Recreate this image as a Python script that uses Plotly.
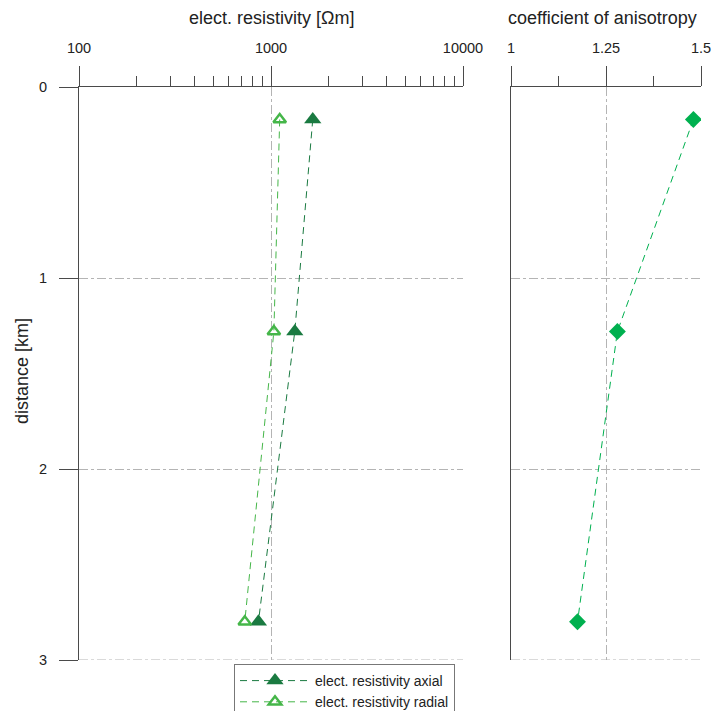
import plotly.graph_objects as go

# data
depth_km = [0.17, 1.28, 2.80]
rho_axial = [1650, 1330, 860]
rho_radial = [1110, 1035, 730]
anisotropy = [1.48, 1.28, 1.175]

res_ticks = [100, 1000, 10000]
res_ticklabels = ["100", "1000", "10000"]
aniso_ticks = [1, 1.25, 1.5]
aniso_ticklabels = ["1", "1.25", "1.5"]
depth_ticks = [0, 1, 2, 3]
depth_ticklabels = ["0", "1", "2", "3"]

c_axial = "#1a7a41"
c_radial = "#45b649"
c_aniso = "#00b04f"
grid_c = "#b4b4b4"
axis_c = "#4a4a4a"
font_c = "#222222"

fig = go.Figure()
fig.add_trace(go.Scatter(
    x=rho_axial, y=depth_km, mode="lines+markers",
    name="elect. resistivity axial",
    line=dict(color=c_axial, width=1, dash="7px,5px"),
    marker=dict(symbol="triangle-up", size=15, color=c_axial),
    xaxis="x", yaxis="y"))
fig.add_trace(go.Scatter(
    x=rho_radial, y=depth_km, mode="lines+markers",
    name="elect. resistivity radial",
    line=dict(color=c_radial, width=1, dash="7px,5px"),
    marker=dict(symbol="triangle-up-open", size=11, color=c_radial,
                line=dict(width=2.5, color=c_radial)),
    xaxis="x", yaxis="y"))
fig.add_trace(go.Scatter(
    x=anisotropy, y=depth_km, mode="lines+markers",
    name="coefficient of anisotropy", showlegend=False,
    line=dict(color=c_aniso, width=1, dash="7px,5px"),
    marker=dict(symbol="diamond", size=13, color=c_aniso),
    xaxis="x2", yaxis="y2"))

W, H = 713, 711
ml, mr, mt, mb = 79, 12, 87, 51
pw = W - ml - mr
ph = H - mt - mb

xcommon = dict(side="top", showline=True, linecolor=axis_c, linewidth=1,
               ticks="outside", ticklen=20, tickcolor=axis_c, tickwidth=1,
               showgrid=True, gridcolor=grid_c, griddash="dashdot", gridwidth=1,
               zeroline=False, tickfont=dict(size=14.5, color=font_c),
               ticklabelstandoff=7, automargin=False)

fig.update_layout(
    width=W, height=H,
    margin=dict(l=ml, r=mr, t=mt, b=mb),
    paper_bgcolor="white", plot_bgcolor="white",
    font=dict(family="Liberation Sans, Arial, sans-serif", size=14, color=font_c),
    xaxis=dict(type="log", range=[2, 4], domain=[0, (463 - ml) / pw],
               tickvals=res_ticks, ticktext=res_ticklabels, anchor="y",
               minor=dict(ticks="outside", ticklen=10, tickcolor=axis_c,
                          dtick="D1", showgrid=False),
               **xcommon),
    xaxis2=dict(range=[1, 1.5], domain=[(511 - ml) / pw, 1],
                tickvals=aniso_ticks, ticktext=aniso_ticklabels, anchor="y2",
                minor=dict(ticks="outside", ticklen=10, tickcolor=axis_c,
                           dtick=0.125, showgrid=False),
                **xcommon),
    yaxis=dict(range=[3, 0], tickvals=depth_ticks, ticktext=depth_ticklabels,
               showline=True, linecolor=axis_c, linewidth=1,
               ticks="outside", ticklen=19, tickcolor=axis_c,
               showgrid=True, gridcolor=grid_c, griddash="dashdot",
               zeroline=False, tickfont=dict(size=14.5, color=font_c),
               ticklabelstandoff=9, anchor="x", automargin=False),
    yaxis2=dict(range=[3, 0], tickvals=depth_ticks, showticklabels=False,
                showline=True, linecolor=axis_c, linewidth=1, ticks="",
                showgrid=True, gridcolor=grid_c, griddash="dashdot",
                zeroline=False, anchor="x2", matches="y", automargin=False),
    legend=dict(x=(234 - ml) / pw, y=1 - 664 / H, xref="paper", yref="container",
                xanchor="left", yanchor="top",
                bordercolor="#777777", borderwidth=1, bgcolor="white",
                font=dict(size=14, color=font_c), itemwidth=70,
                tracegroupgap=0),
    showlegend=True,
)

# bottom boundary dash-dot lines (grid at depth 3) for both panels
for xr, yr in (("x domain", "y"), ("x2 domain", "y2")):
    fig.add_shape(type="line", xref=xr, yref=yr, x0=0, x1=1,
                  y0=depth_ticks[-1], y1=depth_ticks[-1],
                  line=dict(color=grid_c, width=1, dash="dashdot"), layer="below")

fig.add_annotation(text="elect. resistivity [Ωm]", xref="paper", yref="paper",
                   x=0.5 * (463 - ml) / pw, y=(660 - 18) / ph,
                   showarrow=False, font=dict(size=18, color=font_c),
                   xanchor="center", yanchor="middle")
fig.add_annotation(text="coefficient of anisotropy", xref="paper", yref="paper",
                   x=(602 - ml) / pw, y=(660 - 18) / ph,
                   showarrow=False, font=dict(size=18, color=font_c),
                   xanchor="center", yanchor="middle")
fig.add_annotation(text="distance [km]", xref="paper", yref="paper",
                   x=(22 - ml) / pw, y=(660 - 371) / ph, textangle=-90,
                   showarrow=False, font=dict(size=18, color=font_c),
                   xanchor="center", yanchor="middle")

fig.write_html("out.html")
